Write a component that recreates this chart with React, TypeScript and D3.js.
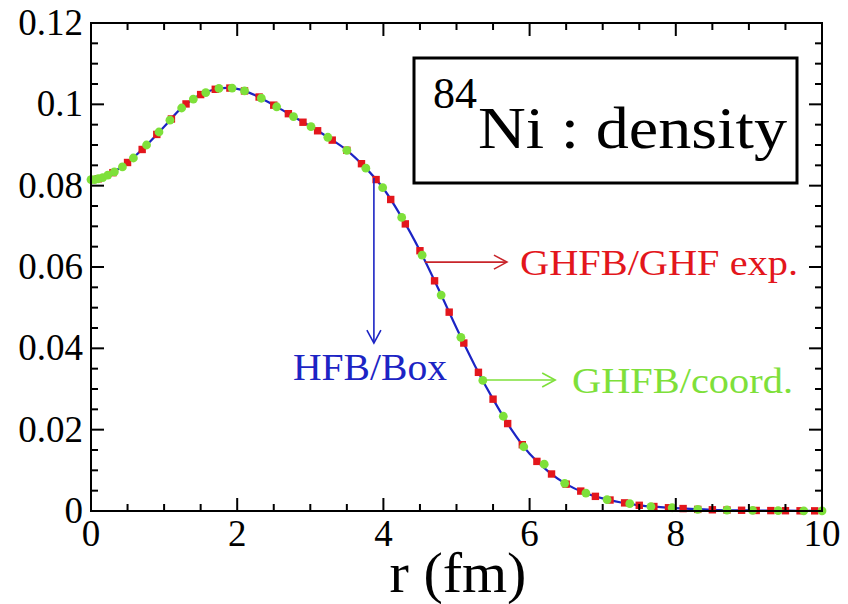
import React from "react";
import * as d3 from "d3";

// HFB/Box (solid line)
const boxR = [0, 0.25, 0.5, 0.75, 1.0, 1.25, 1.5, 1.75, 2.0, 2.25, 2.5, 2.75, 3.0, 3.25, 3.5, 3.75, 4.0, 4.25, 4.5, 4.75, 5.0, 5.25, 5.5, 5.75, 6.0, 6.25, 6.5, 6.75, 7.0, 7.25, 7.5, 7.75, 8.0, 8.5, 9.0, 9.5, 10.0];
const boxRho = [0.0815, 0.0828, 0.0857, 0.0898, 0.0945, 0.0993, 0.1024, 0.1039, 0.1038, 0.1022, 0.0998, 0.0972, 0.0946, 0.0918, 0.0887, 0.0845, 0.0793, 0.0722, 0.064, 0.0547, 0.045, 0.0358, 0.0275, 0.0201, 0.0141, 0.0098, 0.0066, 0.0045, 0.0031, 0.0021, 0.0014, 0.001, 0.0007, 0.0003, 0.00015, 0.00007, 0.00003];

// GHFB/GHF exp. (red squares)
const expR = [0.1, 0.3, 0.5, 0.7, 0.9, 1.1, 1.3, 1.5, 1.7, 1.9, 2.1, 2.3, 2.5, 2.7, 2.9, 3.1, 3.3, 3.5, 3.7, 3.9, 4.1, 4.3, 4.5, 4.7, 4.9, 5.1, 5.3, 5.5, 5.7, 5.9, 6.1, 6.3, 6.5, 6.7, 6.9, 7.1, 7.3, 7.5, 7.7, 7.9, 8.1, 8.3, 8.5, 8.7, 8.9, 9.1, 9.3, 9.5, 9.7, 9.9];
const expRho = [0.0817, 0.0832, 0.0857, 0.0889, 0.0926, 0.0964, 0.1001, 0.1024, 0.1037, 0.104, 0.1033, 0.1018, 0.0998, 0.0977, 0.0956, 0.0935, 0.0912, 0.0887, 0.0854, 0.0815, 0.0766, 0.0706, 0.064, 0.0566, 0.0489, 0.0413, 0.0341, 0.0275, 0.0215, 0.0163, 0.0122, 0.0091, 0.0066, 0.0049, 0.0036, 0.0027, 0.002, 0.0014, 0.0011, 0.0008, 0.0006, 0.0004, 0.0003, 0.00024, 0.00018, 0.00013, 0.0001, 0.00007, 0.00005, 0.00004];

// GHFB/coord. (green circles)
const coordR = [0, 0.05, 0.1, 0.16, 0.23, 0.32, 0.43, 0.58, 0.76, 0.93, 1.08, 1.24, 1.4, 1.57, 1.75, 1.93, 2.1, 2.33, 2.54, 2.77, 3.01, 3.24, 3.5, 3.76, 3.99, 4.25, 4.53, 4.79, 5.06, 5.36, 5.64, 5.92, 6.2, 6.48, 6.77, 7.06, 7.37, 7.66, 7.95, 8.3, 8.7, 9.05, 9.4, 9.75, 10.0];
const coordRho = [0.0815, 0.0815, 0.0817, 0.082, 0.0826, 0.0834, 0.0846, 0.0868, 0.09, 0.0932, 0.0961, 0.0991, 0.1013, 0.1029, 0.1039, 0.104, 0.1033, 0.1015, 0.0994, 0.097, 0.0945, 0.0919, 0.0887, 0.0843, 0.0795, 0.0722, 0.0629, 0.0531, 0.0427, 0.0321, 0.0233, 0.0158, 0.0115, 0.0068, 0.0044, 0.0028, 0.0018, 0.0011, 0.0008, 0.0004, 0.00024, 0.00014, 0.00009, 0.00005, 0.00003];

const xTicks = [0, 2, 4, 6, 8, 10];
const xTickLabels = ["0", "2", "4", "6", "8", "10"];
const yTicks = [0, 0.02, 0.04, 0.06, 0.08, 0.1, 0.12];
const yTickLabels = ["0", "0.02", "0.04", "0.06", "0.08", "0.1", "0.12"];

const FONT = "'Liberation Serif', 'Times New Roman', serif";
const RED = "#e3161c";
const RED_DARK = "#c8242a";
const GREEN = "#7ee03a";
const BLUE = "#1c24c4";

export default function App() {
  const W = 848, H = 604;
  const x = d3.scaleLinear().domain([0, 10]).range([91, 822]);
  const y = d3.scaleLinear().domain([0, 0.12]).range([511, 23]);
  const [x0, x1] = x.range();
  const [y0, y1] = y.range();

  const line = d3.line<number>()
    .x((_, i) => x(boxR[i]))
    .y((d) => y(d))
    .curve(d3.curveCatmullRom.alpha(0.5));

  const xMinor = d3.range(0, 10.001, 0.5).filter((v) => Math.abs(v / 2 - Math.round(v / 2)) > 1e-6);
  const yMinor = d3.range(0, 0.12001, 0.005).filter((v) => Math.abs(v / 0.02 - Math.round(v / 0.02)) > 1e-6);
  const MAJ = 13, MIN = 7;

  const arrowHead = (xe: number, ye: number, dir: "right" | "down", color: string) => {
    const L = 13, Wd = 7;
    const d = dir === "right"
      ? `M${xe - L},${ye - Wd}L${xe},${ye}L${xe - L},${ye + Wd}`
      : `M${xe - Wd},${ye - L}L${xe},${ye}L${xe + Wd},${ye - L}`;
    return <path d={d} fill="none" stroke={color} strokeWidth={1.6} />;
  };

  // annotation anchors in data coords
  const blue = { r: 3.87, v0: 0.0819, v1: 0.0413 };
  const red = { r0: 4.57, r1: 5.69, v: 0.0612 };
  const green = { r0: 5.36, r1: 6.35, v: 0.0322 };

  return (
    <svg width={W} height={H} style={{ position: "absolute", left: 0, top: 0, background: "#fff" }}>
      <rect x={0} y={0} width={W} height={H} fill="#fff" />
      {/* curve */}
      <path d={line(boxRho) || ""} fill="none" stroke={BLUE} strokeWidth={2.2} />
      {/* red squares */}
      {expR.map((r, i) => (
        <rect key={"e" + i} x={x(r) - 3.7} y={y(expRho[i]) - 3.7} width={7.4} height={7.4} fill={RED} />
      ))}
      {/* green circles */}
      {coordR.map((r, i) => (
        <circle key={"c" + i} cx={x(r)} cy={y(coordRho[i])} r={4.4} fill={GREEN} />
      ))}

      {/* frame */}
      <rect x={x0} y={y1} width={x1 - x0} height={y0 - y1} fill="none" stroke="#000" strokeWidth={2} />
      {xTicks.map((t) => (
        <g key={"xt" + t}>
          <line x1={x(t)} x2={x(t)} y1={y0} y2={y0 - MAJ} stroke="#000" strokeWidth={2} />
          <line x1={x(t)} x2={x(t)} y1={y1} y2={y1 + MAJ} stroke="#000" strokeWidth={2} />
        </g>
      ))}
      {xMinor.map((t) => (
        <g key={"xm" + t}>
          <line x1={x(t)} x2={x(t)} y1={y0} y2={y0 - MIN} stroke="#000" strokeWidth={2} />
          <line x1={x(t)} x2={x(t)} y1={y1} y2={y1 + MIN} stroke="#000" strokeWidth={2} />
        </g>
      ))}
      {yTicks.map((t) => (
        <g key={"yt" + t}>
          <line x1={x0} x2={x0 + MAJ} y1={y(t)} y2={y(t)} stroke="#000" strokeWidth={2} />
          <line x1={x1} x2={x1 - MAJ} y1={y(t)} y2={y(t)} stroke="#000" strokeWidth={2} />
        </g>
      ))}
      {yMinor.map((t) => (
        <g key={"ym" + t}>
          <line x1={x0} x2={x0 + MIN} y1={y(t)} y2={y(t)} stroke="#000" strokeWidth={2} />
          <line x1={x1} x2={x1 - MIN} y1={y(t)} y2={y(t)} stroke="#000" strokeWidth={2} />
        </g>
      ))}

      {/* tick labels */}
      {xTicks.map((t, i) => (
        <text key={"xl" + t} x={x(t)} y={y0 + 35} textAnchor="middle" fontFamily={FONT} fontSize={37} fill="#000">
          {xTickLabels[i]}
        </text>
      ))}
      {yTicks.map((t, i) => (
        <text key={"yl" + t} x={x0 - 8} y={y(t) + 12} textAnchor="end" fontFamily={FONT} fontSize={37} fill="#000">
          {yTickLabels[i]}
        </text>
      ))}

      {/* axis title */}
      <text x={458} y={592} textAnchor="middle" fontFamily={FONT} fontSize={58} fill="#000">r (fm)</text>

      {/* title box */}
      <rect x={414} y={58} width={383} height={125} fill="#fff" stroke="#000" strokeWidth={3} />
      <text x={433} y={108} fontFamily={FONT} fontSize={44} fill="#000">84</text>
      <text x={478} y={148} fontFamily={FONT} fontSize={60} fill="#000" textLength={309} lengthAdjust="spacingAndGlyphs">Ni : density</text>

      {/* HFB/Box annotation */}
      <line x1={x(blue.r)} x2={x(blue.r)} y1={y(blue.v0)} y2={y(blue.v1)} stroke={BLUE} strokeWidth={1.6} />
      {arrowHead(x(blue.r), y(blue.v1), "down", BLUE)}
      <text x={293} y={380} fontFamily={FONT} fontSize={38} fill={BLUE} textLength={154} lengthAdjust="spacingAndGlyphs">HFB/Box</text>

      {/* GHFB/GHF exp. annotation */}
      <line x1={x(red.r0)} x2={x(red.r1)} y1={y(red.v)} y2={y(red.v)} stroke={RED_DARK} strokeWidth={1.6} />
      {arrowHead(x(red.r1), y(red.v), "right", RED_DARK)}
      <text x={520} y={275} fontFamily={FONT} fontSize={36} fill={RED} textLength={278} lengthAdjust="spacingAndGlyphs">GHFB/GHF exp.</text>

      {/* GHFB/coord. annotation */}
      <line x1={x(green.r0)} x2={x(green.r1)} y1={y(green.v)} y2={y(green.v)} stroke={GREEN} strokeWidth={1.6} />
      {arrowHead(x(green.r1), y(green.v), "right", GREEN)}
      <text x={572} y={393} fontFamily={FONT} fontSize={36} fill={GREEN} textLength={221} lengthAdjust="spacingAndGlyphs">GHFB/coord.</text>
    </svg>
  );
}
